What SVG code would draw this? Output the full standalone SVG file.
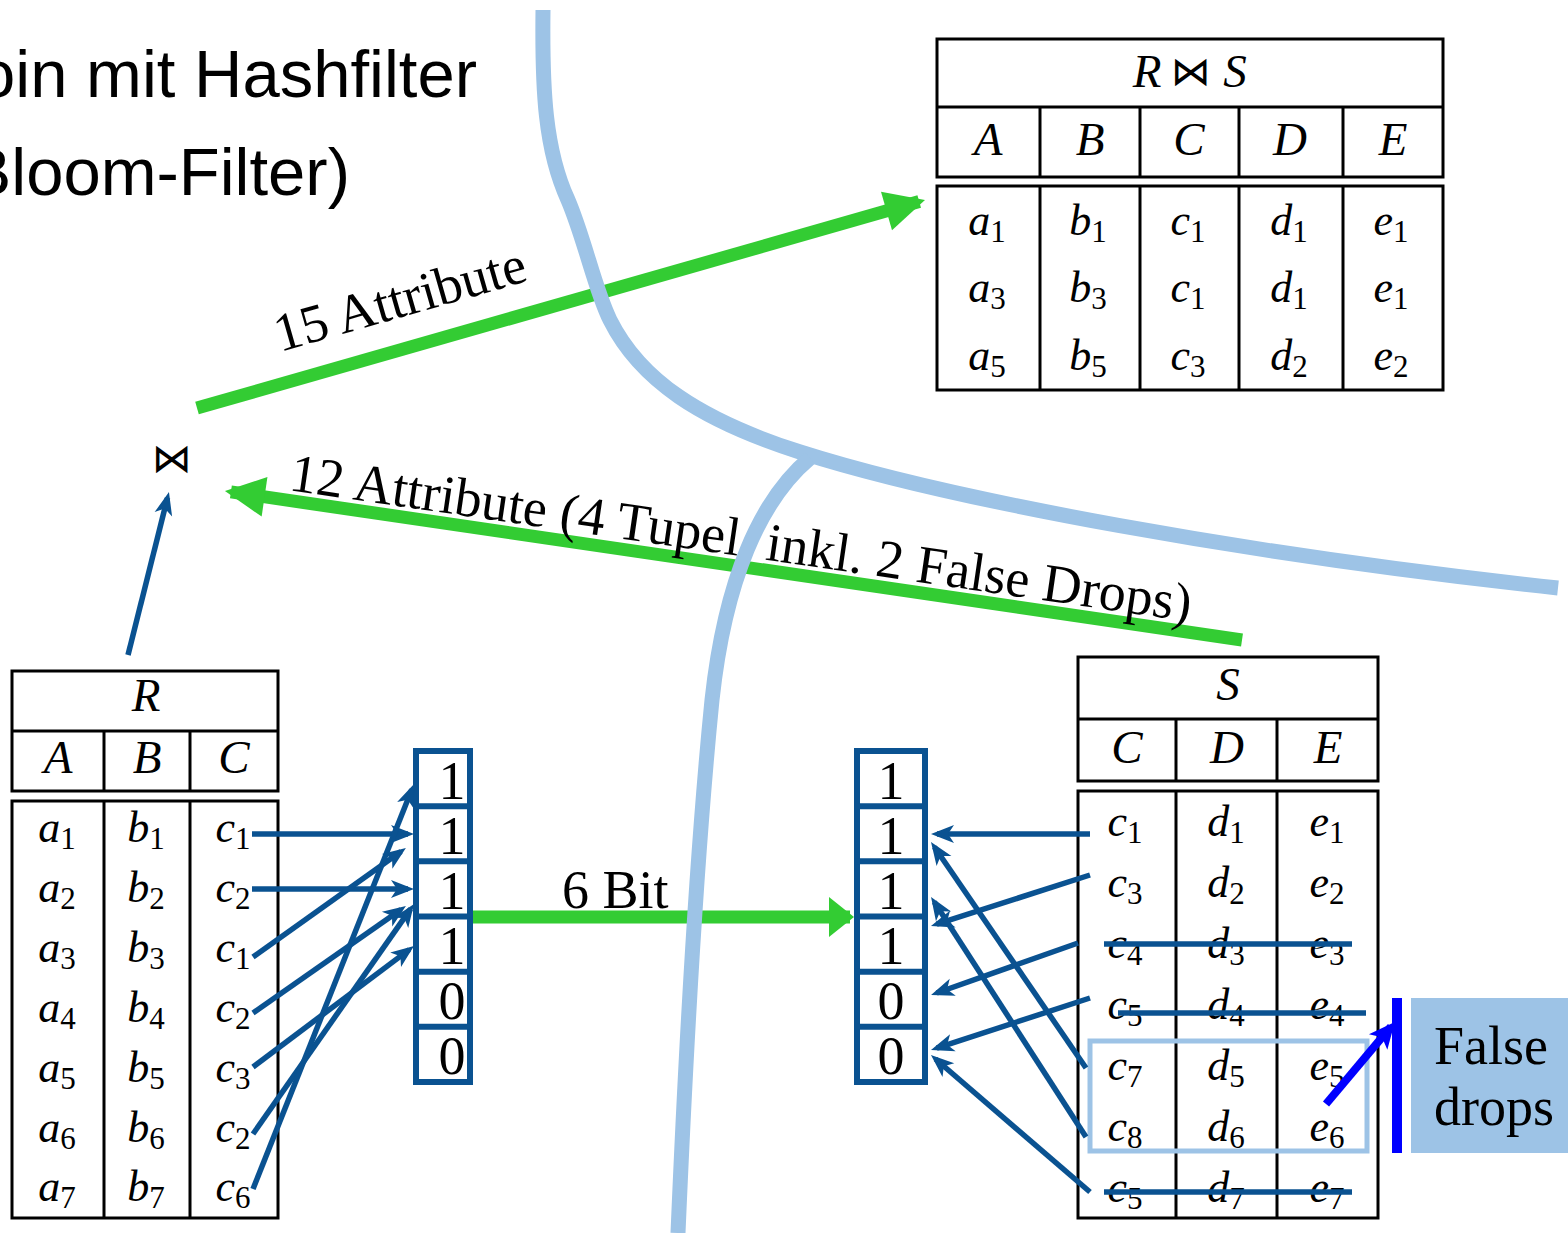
<svg xmlns="http://www.w3.org/2000/svg" width="1568" height="1233" viewBox="0 0 1568 1233">
  <style>
    .tb { fill: none; stroke: #000; stroke-width: 3; }
    .m { font-family: "Liberation Serif", serif; font-style: italic; font-size: 44px; text-anchor: middle; fill: #000; }
    .hd { font-size: 47px; }
    .sub { font-style: normal; font-size: 31px; }
    .bow { font-family: "DejaVu Sans", sans-serif; font-style: normal; text-anchor: middle; fill: #000; }
    .vec { fill: #fff; stroke: #0A5291; stroke-width: 6; }
    .div { stroke: #0A5291; stroke-width: 6; }
    .dig { font-family: "Liberation Serif", serif; font-size: 54px; text-anchor: middle; fill: #000; }
    .arr { stroke: #0A5291; stroke-width: 5.5; fill: none; marker-end: url(#ahBlue); }
    .strike { stroke: #0A5291; stroke-width: 5.5; }
    .green { stroke: #33CC33; stroke-width: 13; fill: none; }
    .lbl { font-family: "Liberation Serif", serif; font-size: 54px; fill: #000; }
    .title { font-family: "Liberation Sans", sans-serif; font-size: 67px; text-anchor: end; fill: #000; }
    .part { stroke: #9DC3E6; stroke-width: 15; fill: none; }
  </style>
  <defs>
    <marker id="ahBlue" markerUnits="userSpaceOnUse" viewBox="-20 -10 28 20" refX="0" refY="0" markerWidth="28" markerHeight="20" orient="auto" overflow="visible">
      <path d="M6,0 L-17,-9 L-11,0 L-17,9 z" fill="#0A5291"/>
    </marker>
    <marker id="ahPure" markerUnits="userSpaceOnUse" viewBox="-24 -12 32 24" refX="0" refY="0" markerWidth="32" markerHeight="24" orient="auto" overflow="visible">
      <path d="M6,0 L-20,-12 L-14,0 L-20,12 z" fill="#0000FF"/>
    </marker>
    <marker id="ahGreen" markerUnits="userSpaceOnUse" viewBox="-36 -22 44 44" refX="0" refY="0" markerWidth="44" markerHeight="44" orient="auto" overflow="visible">
      <path d="M6,0 L-34,-20 L-34,20 z" fill="#33CC33"/>
    </marker>
    <marker id="ahGreenShort" markerUnits="userSpaceOnUse" viewBox="-24 -22 30 44" refX="0" refY="0" markerWidth="30" markerHeight="44" orient="auto" overflow="visible">
      <path d="M4,0 L-21,-20 L-21,20 z" fill="#33CC33"/>
    </marker>
  </defs>

  <rect width="1568" height="1233" fill="#fff"/>

  <!-- heading, running off the left edge of the slide -->
  <g id="heading">
    <text class="title" x="477" y="97">Join mit Hashfilter</text>
    <text class="title" x="350" y="195">(Bloom-Filter)</text>
  </g>

  <!-- result relation R ⋈ S -->
  <g id="table-join">
    <rect class="tb" x="937" y="39" width="506" height="138"/>
    <line class="tb" x1="937" y1="107" x2="1443" y2="107"/>
    <line class="tb" x1="1040" y1="107" x2="1040" y2="177"/>
    <line class="tb" x1="1140" y1="107" x2="1140" y2="177"/>
    <line class="tb" x1="1239" y1="107" x2="1239" y2="177"/>
    <line class="tb" x1="1343" y1="107" x2="1343" y2="177"/>
    <rect class="tb" x="937" y="186" width="506" height="204"/>
    <line class="tb" x1="1040" y1="186" x2="1040" y2="390"/>
    <line class="tb" x1="1140" y1="186" x2="1140" y2="390"/>
    <line class="tb" x1="1239" y1="186" x2="1239" y2="390"/>
    <line class="tb" x1="1343" y1="186" x2="1343" y2="390"/>
    <text class="m hd" x="1147" y="87">R</text>
    <text class="bow" x="1191" y="85" font-size="40">⋈</text>
    <text class="m hd" x="1235" y="87">S</text>
    <text class="m hd" x="988" y="155">A</text>
    <text class="m hd" x="1090" y="155">B</text>
    <text class="m hd" x="1189" y="155">C</text>
    <text class="m hd" x="1290" y="155">D</text>
    <text class="m hd" x="1393" y="155">E</text>
    <text class="m" x="987" y="235">a<tspan class="sub" dy="7">1</tspan></text>
    <text class="m" x="1088" y="235">b<tspan class="sub" dy="7">1</tspan></text>
    <text class="m" x="1188" y="235">c<tspan class="sub" dy="7">1</tspan></text>
    <text class="m" x="1289" y="235">d<tspan class="sub" dy="7">1</tspan></text>
    <text class="m" x="1391" y="235">e<tspan class="sub" dy="7">1</tspan></text>
    <text class="m" x="987" y="302">a<tspan class="sub" dy="7">3</tspan></text>
    <text class="m" x="1088" y="302">b<tspan class="sub" dy="7">3</tspan></text>
    <text class="m" x="1188" y="302">c<tspan class="sub" dy="7">1</tspan></text>
    <text class="m" x="1289" y="302">d<tspan class="sub" dy="7">1</tspan></text>
    <text class="m" x="1391" y="302">e<tspan class="sub" dy="7">1</tspan></text>
    <text class="m" x="987" y="370">a<tspan class="sub" dy="7">5</tspan></text>
    <text class="m" x="1088" y="370">b<tspan class="sub" dy="7">5</tspan></text>
    <text class="m" x="1188" y="370">c<tspan class="sub" dy="7">3</tspan></text>
    <text class="m" x="1289" y="370">d<tspan class="sub" dy="7">2</tspan></text>
    <text class="m" x="1391" y="370">e<tspan class="sub" dy="7">2</tspan></text>
  </g>

  <!-- join operator -->
  <g id="join-op">
    <text class="bow" x="172" y="472" font-size="40">⋈</text>
  </g>

  <!-- relation R -->
  <g id="table-R">
    <rect class="tb" x="12" y="671" width="266" height="120"/>
    <line class="tb" x1="12" y1="731" x2="278" y2="731"/>
    <line class="tb" x1="104" y1="731" x2="104" y2="791"/>
    <line class="tb" x1="190" y1="731" x2="190" y2="791"/>
    <rect class="tb" x="12" y="801" width="266" height="417"/>
    <line class="tb" x1="104" y1="801" x2="104" y2="1218"/>
    <line class="tb" x1="190" y1="801" x2="190" y2="1218"/>
    <text class="m hd" x="146" y="711">R</text>
    <text class="m hd" x="58" y="773">A</text>
    <text class="m hd" x="147" y="773">B</text>
    <text class="m hd" x="234" y="773">C</text>
    <text class="m" x="57" y="842">a<tspan class="sub" dy="7">1</tspan></text>
    <text class="m" x="146" y="842">b<tspan class="sub" dy="7">1</tspan></text>
    <text class="m" x="233" y="842">c<tspan class="sub" dy="7">1</tspan></text>
    <text class="m" x="57" y="902">a<tspan class="sub" dy="7">2</tspan></text>
    <text class="m" x="146" y="902">b<tspan class="sub" dy="7">2</tspan></text>
    <text class="m" x="233" y="902">c<tspan class="sub" dy="7">2</tspan></text>
    <text class="m" x="57" y="962">a<tspan class="sub" dy="7">3</tspan></text>
    <text class="m" x="146" y="962">b<tspan class="sub" dy="7">3</tspan></text>
    <text class="m" x="233" y="962">c<tspan class="sub" dy="7">1</tspan></text>
    <text class="m" x="57" y="1022">a<tspan class="sub" dy="7">4</tspan></text>
    <text class="m" x="146" y="1022">b<tspan class="sub" dy="7">4</tspan></text>
    <text class="m" x="233" y="1022">c<tspan class="sub" dy="7">2</tspan></text>
    <text class="m" x="57" y="1082">a<tspan class="sub" dy="7">5</tspan></text>
    <text class="m" x="146" y="1082">b<tspan class="sub" dy="7">5</tspan></text>
    <text class="m" x="233" y="1082">c<tspan class="sub" dy="7">3</tspan></text>
    <text class="m" x="57" y="1142">a<tspan class="sub" dy="7">6</tspan></text>
    <text class="m" x="146" y="1142">b<tspan class="sub" dy="7">6</tspan></text>
    <text class="m" x="233" y="1142">c<tspan class="sub" dy="7">2</tspan></text>
    <text class="m" x="57" y="1201">a<tspan class="sub" dy="7">7</tspan></text>
    <text class="m" x="146" y="1201">b<tspan class="sub" dy="7">7</tspan></text>
    <text class="m" x="233" y="1201">c<tspan class="sub" dy="7">6</tspan></text>
  </g>

  <!-- relation S -->
  <g id="table-S">
    <rect class="tb" x="1078" y="657" width="300" height="124"/>
    <line class="tb" x1="1078" y1="719" x2="1378" y2="719"/>
    <line class="tb" x1="1176" y1="719" x2="1176" y2="781"/>
    <line class="tb" x1="1277" y1="719" x2="1277" y2="781"/>
    <rect class="tb" x="1078" y="791" width="300" height="427"/>
    <line class="tb" x1="1176" y1="791" x2="1176" y2="1218"/>
    <line class="tb" x1="1277" y1="791" x2="1277" y2="1218"/>
    <text class="m hd" x="1228" y="700">S</text>
    <text class="m hd" x="1127" y="763">C</text>
    <text class="m hd" x="1227" y="763">D</text>
    <text class="m hd" x="1328" y="763">E</text>
    <text class="m" x="1125" y="836">c<tspan class="sub" dy="7">1</tspan></text>
    <text class="m" x="1226" y="836">d<tspan class="sub" dy="7">1</tspan></text>
    <text class="m" x="1327" y="836">e<tspan class="sub" dy="7">1</tspan></text>
    <text class="m" x="1125" y="897">c<tspan class="sub" dy="7">3</tspan></text>
    <text class="m" x="1226" y="897">d<tspan class="sub" dy="7">2</tspan></text>
    <text class="m" x="1327" y="897">e<tspan class="sub" dy="7">2</tspan></text>
    <text class="m" x="1125" y="958">c<tspan class="sub" dy="7">4</tspan></text>
    <text class="m" x="1226" y="958">d<tspan class="sub" dy="7">3</tspan></text>
    <text class="m" x="1327" y="958">e<tspan class="sub" dy="7">3</tspan></text>
    <text class="m" x="1125" y="1019">c<tspan class="sub" dy="7">5</tspan></text>
    <text class="m" x="1226" y="1019">d<tspan class="sub" dy="7">4</tspan></text>
    <text class="m" x="1327" y="1019">e<tspan class="sub" dy="7">4</tspan></text>
    <text class="m" x="1125" y="1080">c<tspan class="sub" dy="7">7</tspan></text>
    <text class="m" x="1226" y="1080">d<tspan class="sub" dy="7">5</tspan></text>
    <text class="m" x="1327" y="1080">e<tspan class="sub" dy="7">5</tspan></text>
    <text class="m" x="1125" y="1141">c<tspan class="sub" dy="7">8</tspan></text>
    <text class="m" x="1226" y="1141">d<tspan class="sub" dy="7">6</tspan></text>
    <text class="m" x="1327" y="1141">e<tspan class="sub" dy="7">6</tspan></text>
    <text class="m" x="1125" y="1202">c<tspan class="sub" dy="7">5</tspan></text>
    <text class="m" x="1226" y="1202">d<tspan class="sub" dy="7">7</tspan></text>
    <text class="m" x="1327" y="1202">e<tspan class="sub" dy="7">7</tspan></text>
    <!-- tuples whose hash bit is 0 -->
    <line class="strike" x1="1104" y1="944" x2="1352" y2="944"/>
    <line class="strike" x1="1118" y1="1013" x2="1366" y2="1013"/>
    <line class="strike" x1="1104" y1="1192" x2="1352" y2="1192"/>
    <!-- false drop tuples -->
    <rect x="1090" y="1041" width="277" height="110" fill="none" stroke="#9DC3E6" stroke-width="5"/>
  </g>

  <!-- bit vector built from R -->
  <g id="bitvector-R">
    <rect class="vec" x="416" y="751" width="54" height="331"/>
    <line class="div" x1="416" y1="806.2" x2="470" y2="806.2"/>
    <line class="div" x1="416" y1="861.3" x2="470" y2="861.3"/>
    <line class="div" x1="416" y1="916.5" x2="470" y2="916.5"/>
    <line class="div" x1="416" y1="971.7" x2="470" y2="971.7"/>
    <line class="div" x1="416" y1="1026.8" x2="470" y2="1026.8"/>
    <text class="dig" x="452" y="799">1</text>
    <text class="dig" x="452" y="854">1</text>
    <text class="dig" x="452" y="909">1</text>
    <text class="dig" x="452" y="964">1</text>
    <text class="dig" x="452" y="1019">0</text>
    <text class="dig" x="452" y="1074">0</text>
  </g>

  <!-- bit vector received on the S side -->
  <g id="bitvector-S">
    <rect class="vec" x="857" y="751" width="68" height="331"/>
    <line class="div" x1="857" y1="806.2" x2="925" y2="806.2"/>
    <line class="div" x1="857" y1="861.3" x2="925" y2="861.3"/>
    <line class="div" x1="857" y1="916.5" x2="925" y2="916.5"/>
    <line class="div" x1="857" y1="971.7" x2="925" y2="971.7"/>
    <line class="div" x1="857" y1="1026.8" x2="925" y2="1026.8"/>
    <text class="dig" x="891" y="799">1</text>
    <text class="dig" x="891" y="854">1</text>
    <text class="dig" x="891" y="909">1</text>
    <text class="dig" x="891" y="964">1</text>
    <text class="dig" x="891" y="1019">0</text>
    <text class="dig" x="891" y="1074">0</text>
  </g>

  <!-- false drops note -->
  <g id="note-false-drops">
    <rect x="1392" y="998" width="10" height="155" fill="#0000FF"/>
    <rect x="1411" y="998" width="157" height="155" fill="#9DC3E6"/>
    <text class="lbl" x="1434" y="1064">False</text>
    <text class="lbl" x="1434" y="1125">drops</text>
  </g>

  <g id="connectors">
    <!-- hashing R.C into the bit vector -->
    <line class="arr" x1="252" y1="834" x2="408" y2="834"/>
    <line class="arr" x1="252" y1="889" x2="408" y2="889"/>
    <line class="arr" x1="253" y1="957" x2="401" y2="851.5"/>
    <line class="arr" x1="253" y1="1013" x2="401" y2="909.4"/>
    <line class="arr" x1="253" y1="1067" x2="409.2" y2="949.6"/>
    <line class="arr" x1="253" y1="1134" x2="410.6" y2="908.9"/>
    <line class="arr" x1="253" y1="1189" x2="411.8" y2="789.6"/>
    <!-- probing S.C against the bit vector -->
    <line class="arr" x1="1090" y1="834" x2="937" y2="834"/>
    <line class="arr" x1="1090" y1="875" x2="936.7" y2="924.2"/>
    <line class="arr" x1="1078" y1="943" x2="936.7" y2="993"/>
    <line class="arr" x1="1090" y1="998" x2="936.7" y2="1048.1"/>
    <line class="arr" x1="1086" y1="1068" x2="934.4" y2="847"/>
    <line class="arr" x1="1086" y1="1137" x2="934.3" y2="902"/>
    <line class="arr" x1="1090" y1="1192" x2="935.5" y2="1059"/>
    <!-- R into the join -->
    <line class="arr" x1="128" y1="655" x2="167.5" y2="497.8"/>
    <!-- false drops pointer -->
    <line x1="1326" y1="1104" x2="1391" y2="1026.6" stroke="#0000FF" stroke-width="8" marker-end="url(#ahPure)"/>
    <!-- transfers between sites -->
    <line class="green" x1="473" y1="917" x2="850" y2="917" marker-end="url(#ahGreenShort)"/>
    <line class="green" x1="1242" y1="640" x2="230.9" y2="491.9" marker-end="url(#ahGreen)"/>
    <line class="green" x1="197" y1="408" x2="919.2" y2="201.6" marker-end="url(#ahGreen)"/>
    <text class="lbl" x="562" y="908" font-size="52">6 Bit</text>
    <text class="lbl" x="288" y="490" font-size="55" transform="rotate(8.3 288 490)">12 Attribute (4 Tupel, inkl. 2 False Drops)</text>
    <text class="lbl" x="280" y="352" font-size="53" transform="rotate(-16 280 352)">15 Attribute</text>
  </g>

  <!-- site boundaries -->
  <g id="site-boundaries">
    <path class="part" d="M543,10 C542,90 545,150 568,200 C585,240 595,290 610,320 C640,380 700,420 800,452 C950,500 1250,555 1558,588"/>
    <path class="part" d="M810,458 C760,500 725,580 712,700 C700,820 688,1000 678,1233"/>
  </g>
</svg>
